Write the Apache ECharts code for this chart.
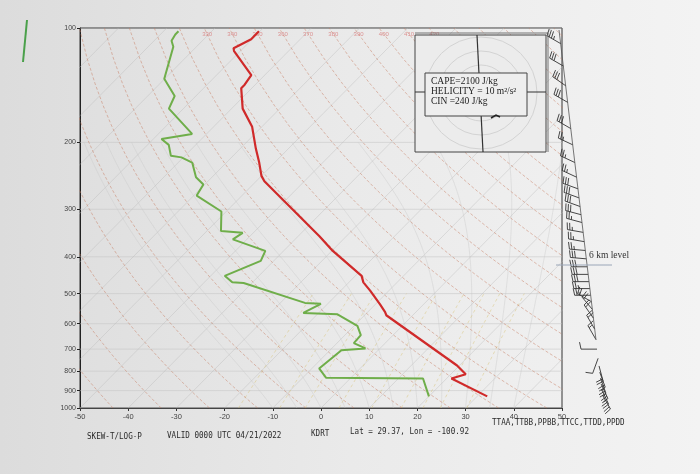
<!DOCTYPE html>
<html lang="en">
<head>
<meta charset="UTF-8">
<title>Skew-T KDRT</title>
<script src="https://cdn.jsdelivr.net/npm/echarts@6/dist/echarts.min.js"></script>
<style>
  html, body { margin: 0; padding: 0; }
  #main { width: 700px; height: 474px; }
</style>
</head>
<body>
<div id="main"></div>
<script type="text/javascript">
// sounding: pressure (hPa) and temperature (C)
var tempP = [102, 107, 113, 115, 133, 141, 144, 163, 182, 208, 226, 245, 253, 353, 386, 449, 467, 491, 534, 559, 570, 773, 815, 836, 932];
var tempT = [-90.2, -90.2, -92.0, -91.3, -82.8, -82.2, -82.2, -77.7, -72.0, -66.7, -63.2, -60.0, -58.3, -35.6, -29.8, -18.7, -17.0, -13.9, -9.0, -6.4, -5.5, 19.5, 23.1, 21.0, 32.1];

var dewP = [102, 104, 108, 112, 136, 151, 163, 190, 196, 203, 217, 219, 226, 247, 258, 276, 304, 342, 346, 360, 386, 410, 449, 467, 469, 529, 532, 562, 567, 608, 643, 675, 697, 705, 787, 832, 836, 932];
var dewT = [-106.9, -106.9, -106.4, -104.8, -100.1, -94.4, -93.0, -83.0, -88.3, -85.6, -82.9, -80.4, -77.1, -73.3, -70.3, -69.4, -61.0, -57.1, -52.2, -52.9, -43.8, -42.7, -47.1, -44.2, -41.7, -24.9, -21.4, -23.2, -15.8, -9.3, -6.7, -6.5, -3.0, -7.6, -8.5, -5.2, 15.1, 20.0];

// winds: pressure, direction (deg), speed (kt)
var windP   = [110, 126, 142, 157, 184, 203, 226, 247, 265, 280, 295, 310, 325, 345, 365, 385, 405, 425, 445, 465, 485, 505, 525, 550, 580, 620, 660, 700, 740, 775, 805, 835, 865, 895, 925];
var windDir = [300, 300, 305, 300, 300, 295, 295, 295, 290, 290, 290, 285, 285, 280, 280, 275, 275, 270, 270, 270, 270, 270, 300, 320, 325, 330, 330, 270, 200, 165, 160, 160, 155, 155, 150];
var windSpd = [35, 30, 30, 30, 30, 25, 25, 25, 30, 30, 30, 30, 25, 25, 25, 25, 30, 30, 30, 30, 25, 25, 20, 20, 20, 20, 15, 10, 10, 20, 20, 25, 25, 25, 20];

var isobars = [100, 200, 300, 400, 500, 600, 700, 800, 900, 1000];
var thetaLabels = [330, 340, 350, 360, 370, 380, 390, 400, 410, 420];
var statLines = ['CAPE=2100 J/kg', 'HELICITY = 10 m\u00b2/s\u00b2', 'CIN =240 J/kg'];

var S = 78; // skew, C per decade of pressure
function skewX(t, p) { return t + S * (3 - Math.log10(p)); }

// background lines of the diagram
var isobarLines = isobars.map(function (p) { return [[-50, Math.log10(p)], [50, Math.log10(p)]]; });

var isothermLines = [];
for (var t = -160; t <= 50; t += 10) {
    isothermLines.push([[t, 3], [t + S, 2]]);
}

var dryLines = [];
for (var th = 220; th <= 480; th += 10) {
    var pts = [];
    for (var p = 1000; p >= 100; p -= 20) {
        pts.push([skewX(th * Math.pow(p / 1000, 0.2857) - 273.15, p), Math.log10(p)]);
    }
    dryLines.push(pts);
}

var moistLines = [];
[-10, -5, 0, 5, 10, 15, 20, 25, 30, 35, 40].forEach(function (t0) {
    var tk = t0 + 273.15, pts = [];
    for (var p = 1000; p >= 200; p -= 5) {
        pts.push([skewX(tk - 273.15, p), Math.log10(p)]);
        var tc = tk - 273.15;
        var es = 6.112 * Math.exp(17.67 * tc / (tc + 243.5));
        var rs = 0.622 * es / (p - es);
        var dTdp = (287 * tk + 2.5e6 * rs) / (p * (1005 + 2.5e6 * 2.5e6 * rs * 0.622 / (287 * tk * tk)));
        tk -= dTdp * 5;
    }
    moistLines.push(pts);
});

var mixLines = [];
[1, 2, 3, 5, 8, 12, 16, 20, 28].forEach(function (w) {
    var pts = [];
    for (var p = 1000; p >= 500; p -= 20) {
        var e = (w / 1000) * p / (0.622 + w / 1000);
        var a = Math.log(e / 6.112);
        var td = 243.5 * a / (17.67 - a);
        pts.push([skewX(td, p), Math.log10(p)]);
    }
    mixLines.push(pts);
});

function bgLines(lines, style) {
    return {
        type: 'lines', coordinateSystem: 'cartesian2d', polyline: true,
        silent: true, clip: true, z: 1,
        data: lines.map(function (c) { return { coords: c }; }),
        lineStyle: style
    };
}

function renderBarb(params, api) {
    var cs = params.coordSys;
    var y = api.coord([0, api.value(1)])[1];
    var f = (y - cs.y) / cs.height;
    var bx = cs.x + cs.width - 3 + 45 * f;
    var d = api.value(2) * Math.PI / 180;
    var ux = Math.sin(d), uy = -Math.cos(d);
    var fx = -uy, fy = ux;
    var L = 16;
    var tx = bx + ux * L, ty = y + uy * L;
    var st = { stroke: '#333', lineWidth: 0.9, fill: null };
    var kids = [{ type: 'line', shape: { x1: bx, y1: y, x2: tx, y2: ty }, style: st }];
    var s = 0, rem = Math.round(api.value(3) / 5) * 5;
    while (rem >= 50) {
        kids.push({ type: 'polygon', shape: { points: [
            [tx - ux * s, ty - uy * s],
            [tx - ux * s + fx * 7, ty - uy * s + fy * 7],
            [tx - ux * (s + 4), ty - uy * (s + 4)]] }, style: { fill: '#333' } });
        s += 5; rem -= 50;
    }
    while (rem >= 10) {
        kids.push({ type: 'line', shape: { x1: tx - ux * s, y1: ty - uy * s,
            x2: tx - ux * s + fx * 7 + ux * 1.5, y2: ty - uy * s + fy * 7 + uy * 1.5 }, style: st });
        s += 2.5; rem -= 10;
    }
    if (rem >= 5) {
        if (s === 0) s = 2.5;
        kids.push({ type: 'line', shape: { x1: tx - ux * s, y1: ty - uy * s,
            x2: tx - ux * s + fx * 3.5 + ux * 0.8, y2: ty - uy * s + fy * 3.5 + uy * 0.8 }, style: st });
    }
    return { type: 'group', children: kids };
}

var myChart = echarts.init(document.getElementById('main'));

var graphics = [
    // stray green mark on the photographed page
    { type: 'line', z: 10, shape: { x1: 27, y1: 20, x2: 23, y2: 62 }, style: { stroke: '#4aa04a', lineWidth: 2 } },
    // barb column line
    { type: 'line', z: 10, shape: { x1: 559, y1: 30, x2: 596, y2: 340 }, style: { stroke: '#555', lineWidth: 0.8 } },
    // 6 km level
    { type: 'line', z: 10, shape: { x1: 556, y1: 265, x2: 612, y2: 265 }, style: { stroke: '#9aa6b8', lineWidth: 1 } },
    { type: 'text', z: 10, x: 589, y: 250, style: { text: '6 km level', fontFamily: 'Liberation Serif', fontSize: 9.5, fill: '#333' } },
    // hodograph panel
    { type: 'rect', z: 10, shape: { x: 415, y: 35, width: 131, height: 117 }, style: { fill: '#ececec', stroke: '#444', lineWidth: 1 } },
    { type: 'polyline', z: 10, shape: { points: [[415, 33], [548, 33], [548, 152]] }, style: { stroke: '#555', lineWidth: 0.8, fill: null } },
    { type: 'circle', z: 10, shape: { cx: 481, cy: 93, r: 14 }, style: { stroke: '#d3d3d3', fill: null } },
    { type: 'circle', z: 10, shape: { cx: 481, cy: 93, r: 28 }, style: { stroke: '#d3d3d3', fill: null } },
    { type: 'circle', z: 10, shape: { cx: 481, cy: 93, r: 42 }, style: { stroke: '#d3d3d3', fill: null } },
    { type: 'circle', z: 10, shape: { cx: 481, cy: 93, r: 56 }, style: { stroke: '#d3d3d3', fill: null } },
    { type: 'line', z: 10, shape: { x1: 477, y1: 35, x2: 483, y2: 152 }, style: { stroke: '#333', lineWidth: 1.2 } },
    { type: 'line', z: 10, shape: { x1: 415, y1: 92, x2: 546, y2: 92 }, style: { stroke: '#333', lineWidth: 1.2 } },
    { type: 'rect', z: 11, shape: { x: 425, y: 73, width: 102, height: 43 }, style: { fill: '#eeeeee', stroke: '#444', lineWidth: 1 } },
    { type: 'polyline', z: 11, shape: { points: [[491, 118], [496, 115], [500, 117]] }, style: { stroke: '#222', lineWidth: 1.5, fill: null } }
];
statLines.forEach(function (txt, i) {
    graphics.push({ type: 'text', z: 12, x: 431, y: 76 + i * 10.3,
        style: { text: txt, fontFamily: 'Liberation Serif', fontSize: 9.5, fill: '#222' } });
});
// footer
[['SKEW-T/LOG-P', 87, 432], ['VALID 0000 UTC 04/21/2022', 167, 431], ['KDRT', 311, 429],
 ['Lat = 29.37, Lon = -100.92', 350, 427], ['TTAA,TTBB,PPBB,TTCC,TTDD,PPDD', 492, 418]].forEach(function (f) {
    graphics.push({ type: 'text', z: 10, x: f[1], y: f[2], scaleX: 0.8,
        style: { text: f[0], fontFamily: 'DejaVu Sans Mono', fontSize: 9.5, fill: '#2a2a2a' } });
});

myChart.setOption({
    backgroundColor: {
        type: 'linear', x: 0, y: 0, x2: 1, y2: 0,
        colorStops: [{ offset: 0, color: '#dcdcdc' }, { offset: 0.5, color: '#eaeaea' }, { offset: 1, color: '#f3f3f3' }]
    },
    animation: false,
    grid: { left: 80, right: 138, top: 28, bottom: 66, show: true, borderColor: '#333', borderWidth: 1 },
    xAxis: {
        type: 'value', min: -50, max: 50, interval: 10,
        axisLine: { show: true, onZero: false, lineStyle: { color: '#333' } },
        axisTick: { show: true, length: 3, lineStyle: { color: '#333' } },
        axisLabel: { fontSize: 7.5, color: '#444', margin: 5 },
        splitLine: { show: false }
    },
    yAxis: {
        type: 'value', min: 2, max: 3, inverse: true,
        axisLine: { show: true, onZero: false, lineStyle: { color: '#222' } },
        axisTick: { show: true, length: 3, customValues: isobars.map(function (p) { return Math.log10(p); }) },
        axisLabel: {
            fontSize: 7, color: '#444', margin: 4,
            customValues: isobars.map(function (p) { return Math.log10(p); }),
            formatter: function (v) { return Math.round(Math.pow(10, v)); }
        },
        splitLine: { show: false }
    },
    graphic: graphics,
    series: [
        bgLines(isobarLines, { color: '#c4c4c4', width: 1 }),
        bgLines(isothermLines, { color: '#b9b9b9', width: 0.8 }),
        bgLines(moistLines, { color: '#c8c8c8', width: 0.8 }),
        bgLines(mixLines, { color: '#d8c070', width: 0.9, type: [3, 3] }),
        bgLines(dryLines, { color: '#c98066', width: 1, type: [3, 2] }),
        {
            type: 'scatter', symbolSize: 0, silent: true, z: 3,
            data: thetaLabels.map(function (th) {
                return [skewX(th * Math.pow(0.104, 0.2857) - 273.15, 104), Math.log10(104)];
            }),
            label: { show: true, position: 'inside', fontSize: 6, color: '#d87a7a',
                formatter: function (pr) { return thetaLabels[pr.dataIndex]; } }
        },
        {
            name: 'temperature', type: 'line', showSymbol: false, z: 5,
            data: tempP.map(function (p, i) { return [skewX(tempT[i], p), Math.log10(p)]; }),
            lineStyle: { color: '#d02a2a', width: 2.2 }
        },
        {
            name: 'dewpoint', type: 'line', showSymbol: false, z: 5,
            data: dewP.map(function (p, i) { return [skewX(dewT[i], p), Math.log10(p)]; }),
            lineStyle: { color: '#6fae4a', width: 2 }
        },
        {
            name: 'wind', type: 'custom', z: 6, silent: true,
            renderItem: renderBarb,
            data: windP.map(function (p, i) { return [50, Math.log10(p), windDir[i], windSpd[i]]; })
        }
    ]
});
</script>
</body>
</html>
